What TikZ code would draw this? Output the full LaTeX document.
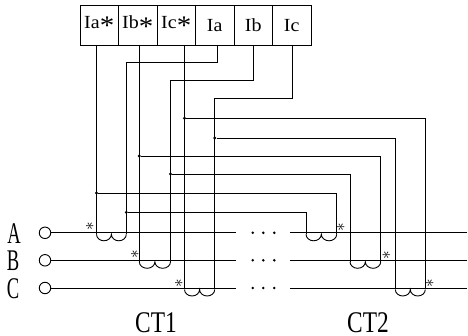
\documentclass[tikz,border=0pt]{standalone}
\usepackage{fontspec}
\usepackage{graphicx}
\setmainfont{Liberation Serif}
\newfontfamily\boxfont[FakeStretch=1.08]{Liberation Serif}
\newfontfamily\phfont[FakeStretch=0.62]{Liberation Serif}
\newfontfamily\ctfont[FakeStretch=0.78]{Liberation Serif}
\usetikzlibrary{calc}
\newcommand{\ctcoil}[2]{\draw[wire] (#1) arc[start angle=180,end angle=360,x radius=#2,y radius=6.5pt] arc[start angle=180,end angle=360,x radius=#2,y radius=6.5pt];}
\newcommand{\bxstar}{\raisebox{-0.36em}{\scalebox{1.45}{*}}}
\begin{document}
\begin{tikzpicture}[x=1pt,y=-1pt,
 wire/.style={draw, line width=0.9pt},
 cell/.style={draw, line width=0.9pt, minimum width=38.5pt, minimum height=39.3pt, inner sep=0pt, outer sep=0pt, font=\boxfont\fontsize{18.5}{18.5}\selectfont},
 jdot/.style={circle, fill, inner sep=0pt, minimum size=3.2pt},
 term/.style={circle, draw, line width=0.9pt, inner sep=0pt, minimum size=11.5pt},
 phlab/.style={font=\phfont\fontsize{30}{30}\selectfont, inner sep=0pt},
 ctlab/.style={font=\ctfont\fontsize{30}{30}\selectfont, inner sep=0pt},
 starmark/.style={inner sep=0pt, font=\fontsize{16}{16}\selectfont, rotate=90},
 gapdot/.style={circle, fill, inner sep=0pt, minimum size=2.8pt}]
\useasboundingbox (0,0) rectangle (468,336);

% terminal block
\node[cell] (Ias) at (99.25,25.35) {Ia\bxstar};
\node[cell] (Ibs) at (137.75,25.35) {Ib\bxstar};
\node[cell] (Ics) at (176.25,25.35) {Ic\bxstar};
\node[cell] (Ia) at (214.75,25.35) {Ia};
\node[cell] (Ib) at (253.25,25.35) {Ib};
\node[cell] (Ic) at (291.75,25.35) {Ic};

% phase inputs
\node[term] (cA) at (45,232.8) {};
\node[term] (cB) at (45,260.3) {};
\node[term] (cC) at (45,288) {};
\node[phlab] (lA) at (14,233.3) {A};
\node[phlab] (lB) at (13,260.5) {B};
\node[phlab] (lC) at (13,288.6) {C};

\coordinate (gA1) at (236,232.8); \coordinate (gA2) at (290,232.8); \coordinate (eA) at (467,232.8);
\coordinate (gB1) at (236,260.3); \coordinate (gB2) at (290,260.3); \coordinate (eB) at (467,260.3);
\coordinate (gC1) at (236,288);   \coordinate (gC2) at (290,288);   \coordinate (eC) at (467,288);
\draw[wire] (cA) -- (gA1); \draw[wire] (gA2) -- (eA);
\draw[wire] (cB) -- (gB1); \draw[wire] (gB2) -- (eB);
\draw[wire] (cC) -- (gC1); \draw[wire] (gC2) -- (eC);

\foreach \r/\yy in {A/232.8,B/260.3,C/288}{
  \node[gapdot] (d1\r) at (252.7,\yy) {};
  \node[gapdot] (d2\r) at (263.3,\yy) {};
  \node[gapdot] (d3\r) at (274.3,\yy) {};
}

% coil terminals
\coordinate (c1al) at (96.5,234.3);  \coordinate (c1ar) at (126.3,234.3);
\coordinate (c1bl) at (139.3,261.8); \coordinate (c1br) at (170.5,261.8);
\coordinate (c1cl) at (184.5,289.5); \coordinate (c1cr) at (214.7,289.5);
\coordinate (c2al) at (306,234.3);   \coordinate (c2ar) at (336.7,234.3);
\coordinate (c2bl) at (350,261.8);   \coordinate (c2br) at (380.7,261.8);
\coordinate (c2cl) at (395.3,289.5); \coordinate (c2cr) at (425.3,289.5);

% knees
\coordinate (kA) at (126.3,62.7);
\coordinate (kB) at (170.5,80);
\coordinate (kC) at (214.7,98);

% wires from terminals to CT1
\draw[wire] ([xshift=-2.75pt]Ias.south) -- (c1al);
\draw[wire] ([xshift=1.55pt]Ibs.south) -- (c1bl);
\draw[wire] ([xshift=8.25pt]Ics.south) -- (c1cl);
\draw[wire] ([xshift=2.25pt]Ia.south) |- (kA) -- (c1ar);
\draw[wire] ([xshift=-0.25pt]Ib.south) |- (kB) -- (c1br);
\draw[wire] ([xshift=0.25pt]Ic.south) |- (kC) -- (c1cr);

% junctions and wires to CT2
\node[jdot] (jIcs) at (184.5,118.3) {};
\node[jdot] (jIc)  at (214.7,138) {};
\node[jdot] (jIbs) at (139.3,156) {};
\node[jdot] (jIb)  at (170.5,174) {};
\node[jdot] (jIas) at (96.5,193) {};
\node[jdot] (jIa)  at (126.3,212.3) {};
\draw[wire] (jIcs) -| (c2cr);
\draw[wire] (jIc)  -| (c2cl);
\draw[wire] (jIbs) -| (c2br);
\draw[wire] (jIb)  -| (c2bl);
\draw[wire] (jIas) -| (c2ar);
\draw[wire] (jIa)  -| (c2al);

% coils
\ctcoil{c1al}{7.45pt}
\ctcoil{c1bl}{7.8pt}
\ctcoil{c1cl}{7.55pt}
\ctcoil{c2al}{7.675pt}
\ctcoil{c2bl}{7.675pt}
\ctcoil{c2cl}{7.5pt}

% polarity marks
\node[starmark] (s1a) at (90,226) {$\ast$};
\node[starmark] (s1b) at (135,254) {$\ast$};
\node[starmark] (s1c) at (179,282.7) {$\ast$};
\node[starmark] (s2a) at (341,226.7) {$\ast$};
\node[starmark] (s2b) at (386.7,255.3) {$\ast$};
\node[starmark] (s2c) at (430,283.3) {$\ast$};

% CT labels
\node[ctlab] (ct1) at (156,322.5) {CT1};
\node[ctlab] (ct2) at (368,322.5) {CT2};
\end{tikzpicture}
\end{document}
